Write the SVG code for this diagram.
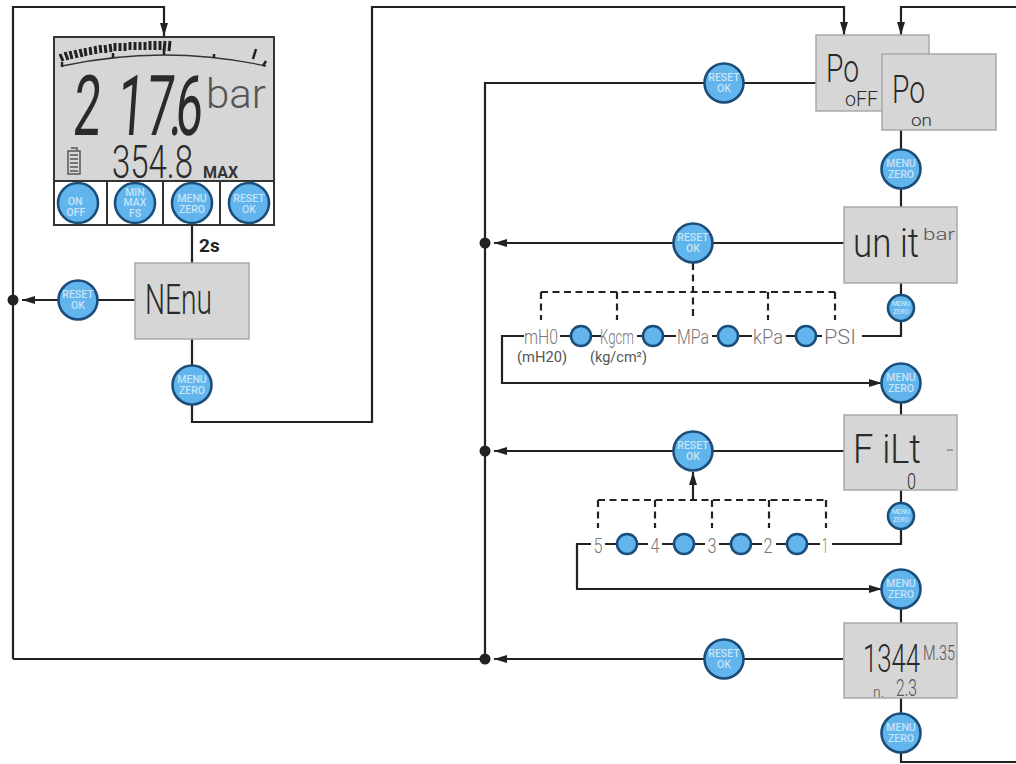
<svg xmlns="http://www.w3.org/2000/svg" width="1016" height="764" viewBox="0 0 1016 764">
<style>
.w{fill:none;stroke:#222;stroke-width:2.2}
.d{fill:none;stroke:#222;stroke-width:2.2;stroke-dasharray:7 4.5}
.lcd{fill:#d6d6d6;stroke:#a9a9a9;stroke-width:1.5}
.b{fill:#62b5ec;stroke:#1b4e7a;stroke-width:2.6}
.bt{font-family:"Roboto","Liberation Sans",sans-serif;fill:#c6e3f7;text-anchor:middle;font-weight:500;font-size:10.5px}
.bs{font-family:"Roboto","Liberation Sans",sans-serif;fill:#c6e3f7;text-anchor:middle;font-weight:500;font-size:6.5px}
.t{font-family:"Roboto","Liberation Sans",sans-serif;font-weight:300;fill:#2a2a2a}
.m{fill:#555}
.g{font-family:"Roboto","Liberation Sans",sans-serif;font-weight:300;fill:#777;text-anchor:middle}
.u{font-family:"Roboto","Liberation Sans",sans-serif;font-weight:400;fill:#555;font-size:14px}
.k{font-family:"Roboto","Liberation Sans",sans-serif;font-weight:700;fill:#333}
</style>
<defs>
<marker id="a" markerUnits="userSpaceOnUse" markerWidth="14" markerHeight="10" refX="13" refY="5" orient="auto"><path d="M0 1 L13 5 L0 9 Z" fill="#222"/></marker>
</defs>
<rect width="1016" height="764" fill="#fff"/>
<g id="connectors">
<path class="w" d="M13 659V7H164V36" marker-end="url(#a)"/>
<path class="w" d="M192 225V263"/>
<path class="w" d="M135 300H22" marker-end="url(#a)"/>
<path class="w" d="M192 339V422H372V7H844V35" marker-end="url(#a)"/>
<path class="w" d="M1016 7H901V35" marker-end="url(#a)"/>
<path class="w" d="M816 83H485V659"/>
<path class="w" d="M901 130V207"/>
<path class="w" d="M844 243H494" marker-end="url(#a)"/>
<path class="d" d="M541 292H835"/>
<path class="d" d="M693 263V320"/>
<path class="d" d="M541 292V320"/>
<path class="d" d="M617 292V320"/>
<path class="d" d="M768 292V320"/>
<path class="d" d="M835 292V320"/>
<path class="w" d="M901 283V336H860"/>
<path class="w" d="M525 336H502V383H882" marker-end="url(#a)"/>
<path class="w" d="M530 336H840"/>
<path class="w" d="M901 383V415"/>
<path class="w" d="M844 451H494" marker-end="url(#a)"/>
<path class="w" d="M693 500V472" marker-end="url(#a)"/>
<path class="d" d="M598 500H826"/>
<path class="d" d="M598 500V528"/>
<path class="d" d="M655 500V528"/>
<path class="d" d="M712 500V528"/>
<path class="d" d="M769 500V528"/>
<path class="d" d="M826 500V528"/>
<path class="w" d="M901 490V544H832"/>
<path class="w" d="M592 544H577V589H882" marker-end="url(#a)"/>
<path class="w" d="M604 544H822"/>
<path class="w" d="M901 589V623"/>
<path class="w" d="M843 659H494" marker-end="url(#a)"/>
<path class="w" d="M485 659H13"/>
<path class="w" d="M901 698V762H1016"/>
<circle cx="13" cy="300" r="5.5" fill="#222"/>
<circle cx="485" cy="243" r="5.5" fill="#222"/>
<circle cx="485" cy="451" r="5.5" fill="#222"/>
<circle cx="485" cy="659" r="5.5" fill="#222"/>
</g>
<g id="main-display">
<rect x="54" y="37" width="220" height="144" fill="#d6d6d6"/>
<rect x="54" y="181" width="220" height="44" fill="#fff"/>
<path d="M54 37H274V225H54ZM54 181H274M107 181V225M163 181V225M220 181V225" fill="none" stroke="#333" stroke-width="2"/>
<path d="M62 66Q164 44 266 66" fill="none" stroke="#333" stroke-width="1.3"/>
<path d="M60 54L63 61M65 52L68 60M70 51L72 59M75 50L77 58M80 49L82 57M85 48L86 56M90 47L91 55M95 46L96 54M100 45L101 53M105 45L106 53M110 44L111 52M115 43L115 51M120 43L120 51M125 43L125 51M130 42L130 50M135 42L135 50M140 42L140 50M145 42L145 50M150 41L150 50M155 41L155 50M160 41L160 50M165 41L164 51M170 41L169 51" fill="none" stroke="#222" stroke-width="3"/>
<path d="M62 62V67M113 53V58M164 50V55M214 54V58M266 61L263 66M256 49L253 59" fill="none" stroke="#222" stroke-width="2.5"/>
<text class="t" transform="translate(72 135) skewX(-4) scale(.58 1)" x="0 76 126 166 176" y="0" font-size="84" style="font-weight:400">217.6</text>
<text class="t m" x="206" y="108" font-size="40" textLength="60" lengthAdjust="spacingAndGlyphs">bar</text>
<text class="t" x="112" y="178" font-size="46" textLength="81" lengthAdjust="spacingAndGlyphs">354.8</text>
<text class="k" x="203" y="178" font-size="16">MAX</text>
<path d="M68 151H80V174H68ZM71 148H77V151M70 155H78M70 159H78M70 163H78M70 167H78M70 171H78" fill="none" stroke="#555" stroke-width="1.5"/>
</g>
<g id="btn-onoff"><circle class="b" cx="78" cy="203" r="20"/><text class="bt" x="75" y="205">ON</text><text class="bt" x="76" y="216">OFF</text></g>
<g id="btn-minmax"><circle class="b" cx="135" cy="203" r="20"/><text class="bt" x="135" y="196">MIN</text><text class="bt" x="135" y="206">MAX</text><text class="bt" x="135" y="217">FS</text></g>
<g id="btn-menu"><circle class="b" cx="192" cy="203" r="20"/><text class="bt" x="192" y="202">MENU</text><text class="bt" x="192" y="213">ZERO</text></g>
<g id="btn-reset"><circle class="b" cx="249" cy="203" r="20"/><text class="bt" x="249" y="202">RESET</text><text class="bt" x="249" y="213">OK</text></g>
<text class="k" x="199" y="252" font-size="19" style="fill:#222">2s</text>
<g id="menu-node"><rect class="lcd" x="135" y="263" width="114" height="76"/><text class="t" x="145" y="314" font-size="42" textLength="67" lengthAdjust="spacingAndGlyphs">NEnu</text></g>
<g id="menu-reset"><circle class="b" cx="78" cy="300" r="19.5"/><text class="bt" x="78" y="298">RESET</text><text class="bt" x="78" y="309">OK</text></g>
<g id="menu-zero"><circle class="b" cx="192" cy="385" r="19.5"/><text class="bt" x="192" y="383">MENU</text><text class="bt" x="192" y="394">ZERO</text></g>
<g id="po-off"><rect class="lcd" x="816" y="35" width="113" height="76"/><text class="t" x="826" y="82" font-size="38" textLength="33" lengthAdjust="spacingAndGlyphs">Po</text><text class="t" x="845" y="106" font-size="20" textLength="33" lengthAdjust="spacingAndGlyphs">oFF</text></g>
<g id="po-reset"><circle class="b" cx="724" cy="83" r="19.5"/><text class="bt" x="724" y="81">RESET</text><text class="bt" x="724" y="92">OK</text></g>
<g id="po-on"><rect class="lcd" x="882" y="54" width="114" height="76"/><text class="t" x="892" y="103" font-size="38" textLength="33" lengthAdjust="spacingAndGlyphs">Po</text><text class="t" x="911" y="126" font-size="16" textLength="21" lengthAdjust="spacingAndGlyphs">on</text></g>
<g id="po-zero"><circle class="b" cx="901" cy="169" r="19.5"/><text class="bt" x="901" y="167">MENU</text><text class="bt" x="901" y="178">ZERO</text></g>
<g id="unit"><rect class="lcd" x="844" y="207" width="113" height="76"/><text class="t" x="853" y="257" font-size="40" textLength="66" lengthAdjust="spacingAndGlyphs">un it</text><text class="t m" x="923" y="240" font-size="16" textLength="32" lengthAdjust="spacingAndGlyphs">bar</text></g>
<g id="unit-reset"><circle class="b" cx="693" cy="243" r="19.5"/><text class="bt" x="693" y="241">RESET</text><text class="bt" x="693" y="252">OK</text></g>
<g id="unit-zero1"><circle class="b" cx="901" cy="308" r="13"/><text class="bs" x="901" y="306">MENU</text><text class="bs" x="901" y="314">ZERO</text></g>
<g id="unit-zero2"><circle class="b" cx="901" cy="383" r="19.5"/><text class="bt" x="901" y="381">MENU</text><text class="bt" x="901" y="392">ZERO</text></g>
<g id="unit-options">
<rect x="524" y="322" width="36" height="24" fill="#fff"/><rect x="601" y="322" width="36" height="24" fill="#fff"/><rect x="676" y="322" width="36" height="24" fill="#fff"/><rect x="752" y="322" width="34" height="24" fill="#fff"/><rect x="822" y="322" width="40" height="24" fill="#fff"/>
<text class="g" x="541" y="344" font-size="21" textLength="34" lengthAdjust="spacingAndGlyphs">mH0</text>
<text class="g" x="617" y="344" font-size="21" textLength="34" lengthAdjust="spacingAndGlyphs">Kgcm</text>
<text class="g" x="693" y="344" font-size="21" textLength="32" lengthAdjust="spacingAndGlyphs">MPa</text>
<text class="g" x="768" y="344" font-size="21" textLength="30" lengthAdjust="spacingAndGlyphs">kPa</text>
<text class="g" x="840" y="344" font-size="21" textLength="32" lengthAdjust="spacingAndGlyphs">PSI</text>
<text class="u" x="517" y="362" textLength="50" lengthAdjust="spacingAndGlyphs">(mH20)</text>
<text class="u" x="590" y="362" textLength="57" lengthAdjust="spacingAndGlyphs">(kg/cm²)</text>
<circle class="b" cx="581" cy="336" r="10"/><circle class="b" cx="653" cy="336" r="10"/><circle class="b" cx="728" cy="336" r="10"/><circle class="b" cx="806" cy="336" r="10"/>
</g>
<g id="filt"><rect class="lcd" x="844" y="415" width="113" height="75"/><text class="t" x="853" y="463" font-size="40" textLength="68" lengthAdjust="spacingAndGlyphs">F iLt</text><text class="t" x="907" y="489" font-size="22" textLength="9" lengthAdjust="spacingAndGlyphs">0</text><path d="M947 450H953" stroke="#777" stroke-width="1.2"/></g>
<g id="filt-reset"><circle class="b" cx="693" cy="451" r="19.5"/><text class="bt" x="693" y="449">RESET</text><text class="bt" x="693" y="460">OK</text></g>
<g id="filt-zero1"><circle class="b" cx="901" cy="516" r="13"/><text class="bs" x="901" y="514">MENU</text><text class="bs" x="901" y="522">ZERO</text></g>
<g id="filt-zero2"><circle class="b" cx="901" cy="589" r="19.5"/><text class="bt" x="901" y="587">MENU</text><text class="bt" x="901" y="598">ZERO</text></g>
<g id="filt-options">
<rect x="591" y="530" width="14" height="28" fill="#fff"/><rect x="648" y="530" width="14" height="28" fill="#fff"/><rect x="705" y="530" width="14" height="28" fill="#fff"/><rect x="762" y="530" width="14" height="28" fill="#fff"/><rect x="820" y="530" width="12" height="28" fill="#fff"/>
<text class="g" x="598" y="553" font-size="21" textLength="9" lengthAdjust="spacingAndGlyphs">5</text><text class="g" x="655" y="553" font-size="21" textLength="9" lengthAdjust="spacingAndGlyphs">4</text><text class="g" x="712" y="553" font-size="21" textLength="9" lengthAdjust="spacingAndGlyphs">3</text><text class="g" x="768" y="553" font-size="21" textLength="9" lengthAdjust="spacingAndGlyphs">2</text><text class="g" x="825" y="553" font-size="21" textLength="6" lengthAdjust="spacingAndGlyphs">1</text>
<circle class="b" cx="627" cy="544" r="10"/><circle class="b" cx="684" cy="544" r="10"/><circle class="b" cx="741" cy="544" r="10"/><circle class="b" cx="797" cy="544" r="10"/>
</g>
<g id="count"><rect class="lcd" x="844" y="623" width="113" height="75"/><text class="t" x="863" y="672" font-size="38" textLength="57" lengthAdjust="spacingAndGlyphs">1344</text><text class="t m" x="923" y="660" font-size="20" textLength="32" lengthAdjust="spacingAndGlyphs">M.35</text><text class="t m" x="873" y="697" font-size="14">n.</text><text class="t m" x="896" y="696" font-size="23" textLength="21" lengthAdjust="spacingAndGlyphs">2.3</text></g>
<g id="count-reset"><circle class="b" cx="724" cy="659" r="19.5"/><text class="bt" x="724" y="657">RESET</text><text class="bt" x="724" y="668">OK</text></g>
<g id="count-zero"><circle class="b" cx="901" cy="733" r="19.5"/><text class="bt" x="901" y="731">MENU</text><text class="bt" x="901" y="742">ZERO</text></g>
</svg>
